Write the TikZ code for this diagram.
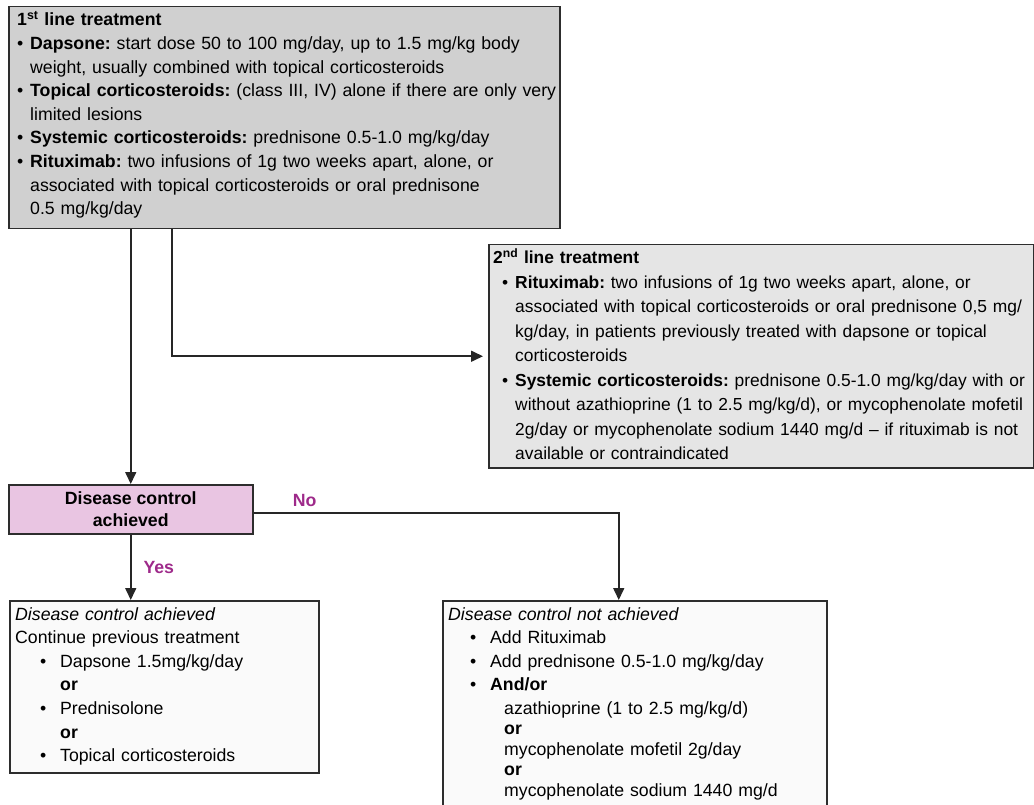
\documentclass[tikz,border=0pt]{standalone}
\usepackage{fontspec}
\setmainfont{Liberation Sans}
\usetikzlibrary{arrows.meta}

\definecolor{boxline}{RGB}{45,45,45}
\definecolor{firstfill}{RGB}{208,208,208}
\definecolor{secondfill}{RGB}{229,229,229}
\definecolor{controlfill}{RGB}{233,197,226}
\definecolor{resultfill}{RGB}{250,250,250}
\definecolor{answercol}{RGB}{158,42,138}

\newcommand{\flowsize}{\fontsize{17.7}{23.6}\selectfont\frenchspacing}
\newcommand{\blt}[1]{\makebox[#1][l]{\textbullet}}
\newcommand{\pushin}[1]{\hspace*{#1}}

\begin{document}
\begin{tikzpicture}[x=1pt, y=-1pt,
    every node/.style={font=\flowsize},
    box/.style={draw=boxline, line width=1.5pt, inner sep=0pt, anchor=north west},
    boxtext/.style={anchor=base west, inner sep=0pt, align=left, text width=600pt},
    link/.style={draw=black!85, line width=1.6pt},
    flow/.style={link, -{Triangle[length=12pt,width=11pt]}},
    answer/.style={text=answercol, inner sep=0pt, font={\flowsize\bfseries}}]

\useasboundingbox (0,0) rectangle (1034,805);

% boxes
\node [box, fill=firstfill, minimum width=551pt, minimum height=222pt] (first) at (8,6) {};
\node [box, fill=secondfill, minimum width=545pt, minimum height=223pt] (second) at (488,244) {};
\node [box, fill=controlfill, minimum width=244pt, minimum height=49pt, align=center,
       font={\fontsize{17.7}{22.5}\selectfont\bfseries}] (control) at (8,484) {Disease control\\achieved};
\node [box, fill=resultfill, minimum width=309pt, minimum height=172pt] (yesbox) at (9,600) {};
\node [box, fill=resultfill, minimum width=384pt, minimum height=220pt] (nobox) at (442,600) {};

% texts
\node [boxtext] (firsttext) at (17,26) {%
\textbf{1\textsuperscript{st} line treatment}\\
\blt{13pt}\textbf{Dapsone:} start dose 50 to 100 mg/day, up to 1.5 mg/kg body\\
\pushin{13pt}weight, usually combined with topical corticosteroids\\
\blt{13pt}\textbf{Topical corticosteroids:} (class III, IV) alone if there are only very\\
\pushin{13pt}limited lesions\\
\blt{13pt}\textbf{Systemic corticosteroids:} prednisone 0.5-1.0 mg/kg/day\\
\blt{13pt}\textbf{Rituximab:} two infusions of 1g two weeks apart, alone, or\\
\pushin{13pt}associated with topical corticosteroids or oral prednisone\\
\pushin{13pt}0.5 mg/kg/day};

\node [boxtext, font={\fontsize{17.4}{24.5}\selectfont\frenchspacing}] (secondtext) at (493,264) {%
\textbf{2\textsuperscript{nd} line treatment}\\
\pushin{9pt}\blt{13pt}\textbf{Rituximab:} two infusions of 1g two weeks apart, alone, or\\
\pushin{22pt}associated with topical corticosteroids or oral prednisone 0,5 mg/\\
\pushin{22pt}kg/day, in patients previously treated with dapsone or topical\\
\pushin{22pt}corticosteroids\\
\pushin{9pt}\blt{13pt}\textbf{Systemic corticosteroids:} prednisone 0.5-1.0 mg/kg/day with or\\
\pushin{22pt}without azathioprine (1 to 2.5 mg/kg/d), or mycophenolate mofetil\\
\pushin{22pt}2g/day or mycophenolate sodium 1440 mg/d -- if rituximab is not\\
\pushin{22pt}available or contraindicated};

\node [boxtext] (yestext) at (15,620) {%
\textit{Disease control achieved}\\
Continue previous treatment\\
\pushin{25pt}\blt{20pt}Dapsone 1.5mg/kg/day\\
\pushin{45pt}\textbf{or}\\
\pushin{25pt}\blt{20pt}Prednisolone\\
\pushin{45pt}\textbf{or}\\
\pushin{25pt}\blt{20pt}Topical corticosteroids};

\node [boxtext] (notext) at (448,620) {%
\textit{Disease control not achieved}\\
\pushin{22pt}\blt{20pt}Add Rituximab\\
\pushin{22pt}\blt{20pt}Add prednisone 0.5-1.0 mg/kg/day\\
\pushin{22pt}\blt{20pt}\textbf{And/or}\\
\pushin{56pt}azathioprine (1 to 2.5 mg/kg/d)\\[-3.2pt]
\pushin{56pt}\textbf{or}\\[-3.2pt]
\pushin{56pt}mycophenolate mofetil 2g/day\\[-3.2pt]
\pushin{56pt}\textbf{or}\\[-3.2pt]
\pushin{56pt}mycophenolate sodium 1440 mg/d};

% connectors
\draw [flow] (control.north |- first.south) -- (control.north);
\draw [flow, shorten >=5pt] ([xshift=164pt]first.south west) |- (second.west);
\draw [flow] (control.south) -- node [answer, right=12pt] {Yes} (control.south |- yesbox.north);
\draw [flow] ([yshift=-3.5pt]control.east) -| node [answer, pos=0.07, above=5pt] {No} ([xshift=-16pt]nobox.north);

\end{tikzpicture}
\end{document}
